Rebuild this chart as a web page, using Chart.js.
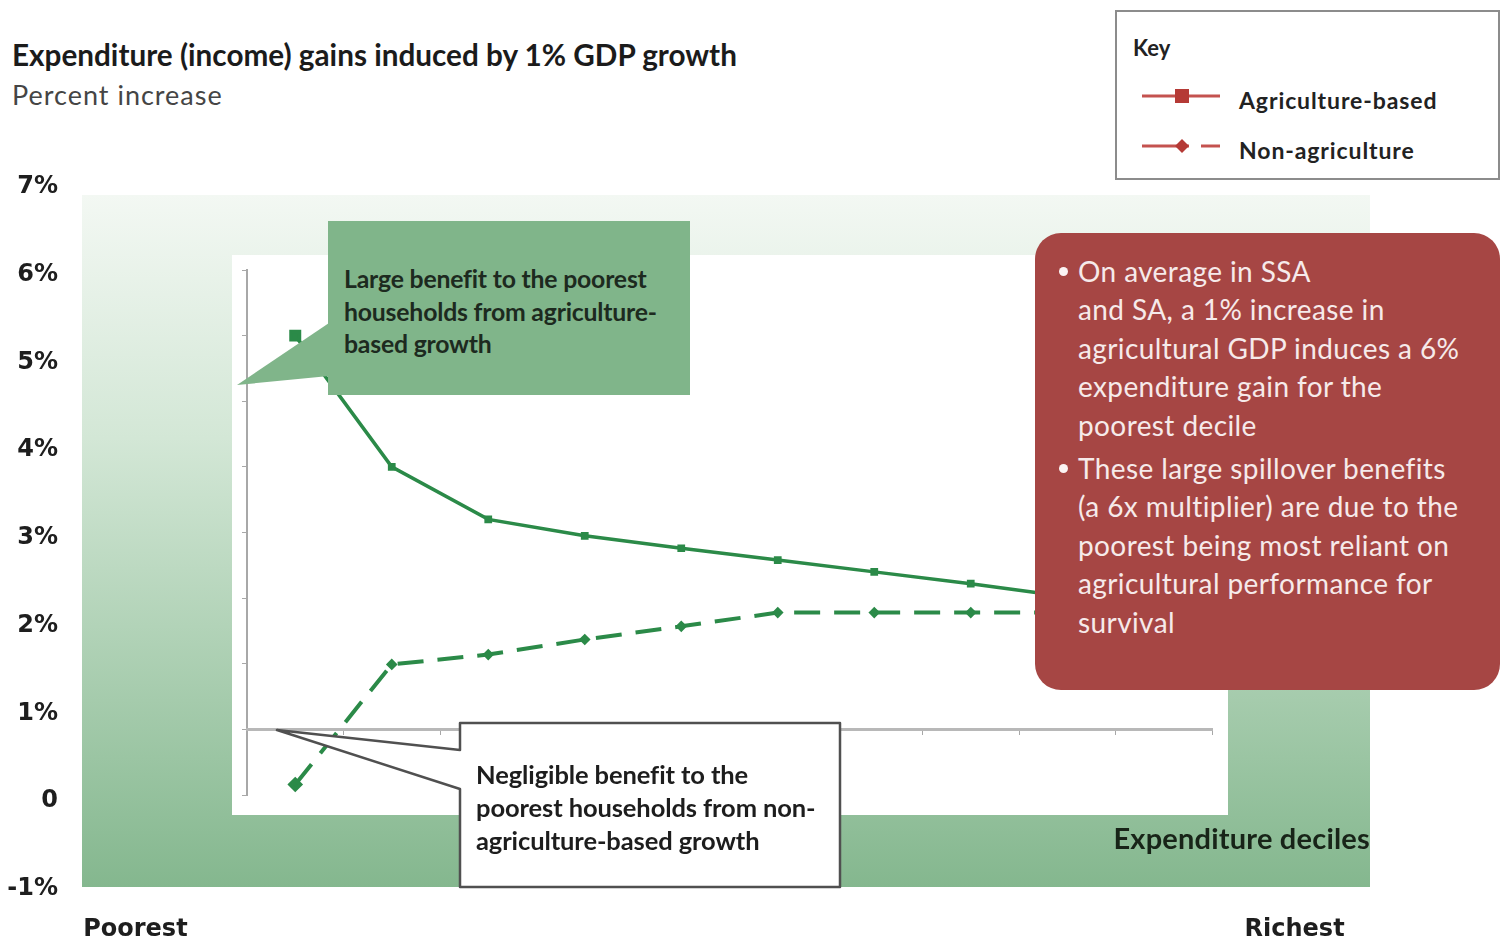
<!DOCTYPE html>
<html>
<head>
<meta charset="utf-8">
<script src="https://cdn.jsdelivr.net/npm/chart.js@4.4.1/dist/chart.umd.min.js"></script>
<style>
  body { margin: 0; background: #fff; font-family: Lato, "Open Sans", sans-serif; }
  #page { position: relative; width: 1502px; height: 940px; overflow: hidden; }
  .abs { position: absolute; }
  #outer { left: 0; top: 0; z-index: 1; }
  #inner { left: 232px; top: 255px; z-index: 2; background: #fff; }
  #overlay { left: 0; top: 0; z-index: 3; pointer-events: none; }
  .title { left: 12px; top: 37px; font-weight: bold; font-size: 29.7px; line-height: 36px; color: #1b1b1b; white-space: nowrap; }
  .subtitle { left: 12px; top: 77px; font-size: 27px; line-height: 36px; color: #454545; letter-spacing: 1px; }
  .key { left: 1115px; top: 10px; width: 381px; height: 166px; border: 2px solid #8c8c8c; z-index: 4; background: #fff; }
  .callout-green { left: 328px; top: 221px; width: 362px; height: 174px; background: #80b58a; z-index: 4;
    box-sizing: border-box; padding: 42px 0 0 16px; font-weight: bold; font-size: 24.8px; line-height: 32.5px; color: #1d2a1f; white-space: nowrap; letter-spacing: -0.2px; }
  .callout-white { left: 476px; top: 758px; z-index: 5; font-weight: bold; font-size: 25.5px; line-height: 33px; color: #1d1d1d; letter-spacing: -0.1px; white-space: nowrap; }
  .callout-red { left: 1035px; top: 233px; width: 465px; height: 457px; background: #a64644; border-radius: 26px; z-index: 4;
    box-sizing: border-box; padding: 19px 0 0 43px; font-size: 28px; line-height: 38.4px; color: #f6eaea; letter-spacing: 0.4px; white-space: nowrap; }
  .callout-red p { margin: 0 0 5px 0; position: relative; }
  .callout-red p::before { content: ""; position: absolute; left: -19px; top: 15px; width: 9px; height: 9px; border-radius: 50%; background: #fbf3f3; }
  .deciles { right: 132px; top: 821px; font-weight: bold; font-size: 29px; line-height: 34px; color: #182418; z-index: 4; letter-spacing: 0.2px; }
</style>
</head>
<body>
<div id="page">
  <canvas id="outer" class="abs" width="1502" height="940"></canvas>
  <canvas id="inner" class="abs" width="996" height="560"></canvas>

  <svg id="overlay" class="abs" width="1502" height="940">
    <polygon points="237,385 329,323 329,376" fill="#80b58a"/>
    <path d="M460,723 H840 V887 H460 V789 L277,730 L460,750 Z" fill="#fff" stroke="#505050" stroke-width="2.5" stroke-linejoin="round"/>
  </svg>

  <div class="abs title">Expenditure (income) gains induced by 1% GDP growth</div>
  <div class="abs subtitle">Percent increase</div>

  <div class="abs key">
    <svg width="381" height="166">
      <text x="16" y="44" font-family="Lato" font-weight="bold" font-size="22" fill="#222">Key</text>
      <line x1="25" y1="84" x2="103" y2="84" stroke="#c4524f" stroke-width="3"/>
      <rect x="58" y="77" width="14" height="14" fill="#b53a36"/>
      <text x="122" y="97" font-family="Lato" font-weight="bold" font-size="23" letter-spacing="0.9" fill="#222">Agriculture-based</text>
      <line x1="25" y1="134" x2="72" y2="134" stroke="#c4524f" stroke-width="3"/>
      <polygon points="65,127 72,134 65,141 58,134" fill="#b53a36"/>
      <line x1="84" y1="134" x2="103" y2="134" stroke="#c4524f" stroke-width="3"/>
      <text x="122" y="147" font-family="Lato" font-weight="bold" font-size="23" letter-spacing="0.9" fill="#222">Non-agriculture</text>
    </svg>
  </div>

  <div class="abs callout-green">Large benefit to the poorest<br>households from agriculture-<br>based growth</div>
  <div class="abs callout-white">Negligible benefit to the<br>poorest households from non-<br>agriculture-based growth</div>

  <div class="abs callout-red">
    <p>On average in SSA<br>and SA, a 1% increase in<br>agricultural GDP induces a 6%<br>expenditure gain for the<br>poorest decile</p>
    <p>These large spillover benefits<br>(a 6x multiplier) are due to the<br>poorest being most reliant on<br>agricultural performance for<br>survival</p>
  </div>

  <div class="abs deciles">Expenditure deciles</div>
</div>

<script>
// expenditure deciles, poorest to richest
const deciles = ['1', '2', '3', '4', '5', '6', '7', '8', '9', '10'];
// percent expenditure gain per 1% GDP growth
const agriculture = [6.0, 4.0, 3.2, 2.95, 2.76, 2.58, 2.4, 2.22, 2.02, 1.85];
const nonAgriculture = [-0.84, 0.99, 1.14, 1.37, 1.57, 1.78, 1.78, 1.78, 1.78, 1.78];
const yTicks = [-1, 0, 1, 2, 3, 4, 5, 6, 7];
const xEnds = ['Poorest', 'Richest'];

const green = '#2b8a48';

// green shaded backdrop behind the plot
const backdrop = {
  id: 'backdrop',
  beforeDraw(chart) {
    const { ctx, chartArea: a } = chart;
    const g = ctx.createLinearGradient(0, a.top + 8, 0, a.bottom);
    g.addColorStop(0, '#f3f8f3');
    g.addColorStop(0.35, '#d3e7d6');
    g.addColorStop(1, '#84b78e');
    ctx.save();
    ctx.fillStyle = g;
    ctx.fillRect(a.left, a.top + 8, a.right - a.left, a.bottom - a.top - 10);
    ctx.restore();
  }
};

new Chart(document.getElementById('outer'), {
  type: 'line',
  data: { labels: deciles, datasets: [] },
  options: {
    responsive: false,
    animation: false,
    devicePixelRatio: 1,
    layout: { padding: { top: 187, right: 132, bottom: 0, left: 0 } },
    plugins: { legend: { display: false }, tooltip: { enabled: false } },
    scales: {
      y: {
        min: yTicks[0],
        max: yTicks[yTicks.length - 1],
        afterBuildTicks: s => { s.ticks = yTicks.map(v => ({ value: v })); },
        afterFit: s => { s.width = 82; },
        grid: { display: false, drawTicks: false },
        border: { display: false },
        ticks: {
          padding: 24,
          color: '#1e1e1e',
          font: { family: 'DejaVu Sans', weight: 'bold', size: 24 },
          callback: v => v === 0 ? '0' : v + '%'
        }
      },
      x: {
        offset: true,
        afterFit: s => { s.height = 51; },
        grid: { display: false, drawTicks: false },
        border: { display: false },
        ticks: {
          autoSkip: false,
          maxRotation: 0,
          padding: 26,
          labelOffset: -11,
          color: '#1e1e1e',
          font: { family: 'DejaVu Sans', weight: 'bold', size: 24 },
          callback: (v, i) => i === 0 ? xEnds[0] : (i === deciles.length - 1 ? xEnds[1] : '')
        }
      }
    }
  },
  plugins: [backdrop]
});

new Chart(document.getElementById('inner'), {
  type: 'line',
  data: {
    labels: deciles,
    datasets: [
      {
        label: 'Agriculture-based',
        data: agriculture,
        borderColor: green,
        backgroundColor: green,
        borderWidth: 3.5,
        pointStyle: 'rect',
        pointRadius: c => c.dataIndex === 0 ? 6 : 3,
        tension: 0
      },
      {
        label: 'Non-agriculture',
        data: nonAgriculture,
        borderColor: green,
        backgroundColor: green,
        borderWidth: 4,
        borderDash: [26, 14],
        pointStyle: 'rectRot',
        pointRadius: c => c.dataIndex === 0 ? 5 : 3,
        tension: 0
      }
    ]
  },
  options: {
    responsive: false,
    animation: false,
    devicePixelRatio: 1,
    layout: { padding: { top: 15, right: 16, bottom: 20, left: 0 } },
    plugins: { legend: { display: false }, tooltip: { enabled: false } },
    scales: {
      y: {
        min: -1,
        max: 7,
        afterFit: s => { s.width = 15; },
        ticks: { display: false, stepSize: 1 },
        grid: { drawOnChartArea: false, tickLength: 5, color: '#a8a8a8' },
        border: { color: '#a8a8a8', width: 2 }
      },
      x: {
        position: { y: 0 },
        offset: true,
        ticks: { display: false },
        grid: { offset: true, drawOnChartArea: false, tickLength: 4, color: '#a8a8a8' },
        border: { color: '#b8b8b8', width: 3 }
      }
    }
  }
});
</script>
</body>
</html>
